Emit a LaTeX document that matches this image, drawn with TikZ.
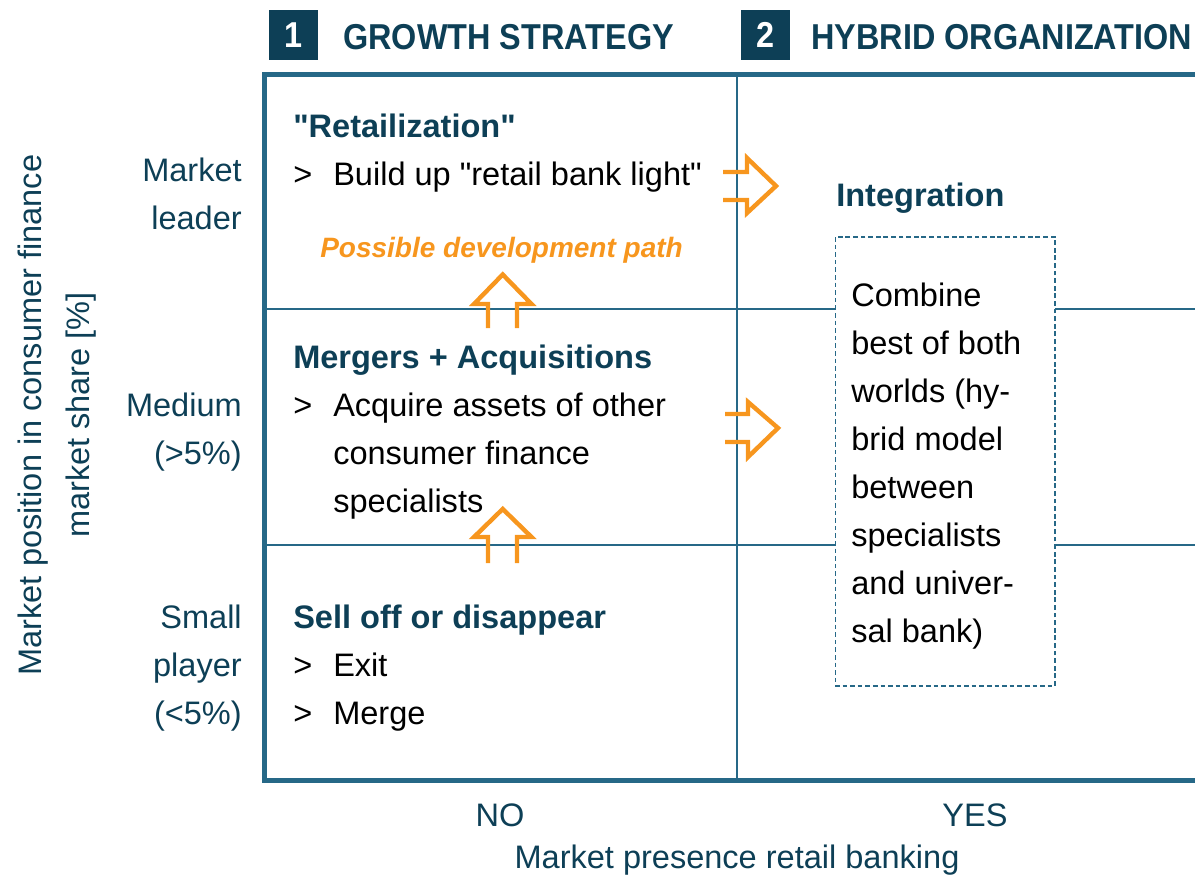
\documentclass[tikz,border=0pt]{standalone}
\usepackage{fontspec}
\setmainfont[Ligatures=TeXOff]{Liberation Sans}
\newfontfamily\headfamily[FakeStretch=0.9]{Liberation Sans}
\definecolor{ink}{RGB}{13,63,86}
\definecolor{rule}{RGB}{38,104,135}
\definecolor{accent}{RGB}{247,150,30}
\newcommand\bodyfont{\fontsize{24.4}{36}\selectfont}
\newcommand\titlefont{\headfamily\fontsize{27}{36}\selectfont\bfseries}
\begin{document}
\begin{tikzpicture}[x=0.75pt,y=-0.75pt,
  txt/.style={anchor=base west, inner sep=0pt, font=\bodyfont},
  rtxt/.style={anchor=base east, inner sep=0pt, font=\bodyfont, text=ink},
  ctxt/.style={anchor=base, inner sep=0pt, font=\bodyfont, text=ink},
  head/.style={anchor=base west, inner sep=0pt, font=\bodyfont\bfseries, text=ink},
  title/.style={anchor=base west, inner sep=0pt, font=\titlefont, text=ink},
  numbox/.style={fill=ink, text=white, minimum width=36.75pt, minimum height=37.5pt,
    inner sep=0pt, font=\titlefont},
  frameline/.style={draw=rule, line width=3.75pt},
  gridline/.style={draw=rule, line width=1.4pt},
  hybridbox/.style={draw=rule, line width=0.9pt, dash pattern=on 3.5pt off 2.2pt, fill=white},
  hollowarrow/.style={draw=accent, line width=3.3pt, miter limit=10},
]
\useasboundingbox (0,0) rectangle (1195,876);

% column headers
\node[numbox] (n1) at (293.5,35) {1};
\node[title] (h1) at (343,49) {GROWTH STRATEGY};
\node[numbox] (n2) at (765,35) {2};
\node[title] (h2) at (811,49) {HYBRID ORGANIZATION};

% grid of the matrix
\draw[gridline] (737,74) -- (737,780);
\draw[gridline] (264,309) -- (1200,309);
\draw[gridline] (264,545) -- (1200,545);

% outer frame (open to the right)
\draw[frameline] (1200,74) -- (264,74) -- (264,780) -- (1200,780);

% hybrid model box
\draw[hybridbox] (835.5,237) rectangle (1055,686);

% development arrows
\draw[hollowarrow] (488,328) -- (488,304) -- (474,304) -- (502.7,274.5) -- (531.5,304) -- (517,304) -- (517,328);
\draw[hollowarrow] (488,563) -- (488,537) -- (474,537) -- (502.7,509) -- (531.5,537) -- (517,537) -- (517,563);
\draw[hollowarrow] (723,172) -- (747,172) -- (747,158) -- (776,186) -- (747,213) -- (747,200) -- (723,200);
\draw[hollowarrow] (725,414) -- (748,414) -- (748,402) -- (778,428) -- (748,457) -- (748,442) -- (725,442);

% vertical axis
\node[rotate=90, align=center, inner sep=0pt, font=\bodyfont, text=ink] (yaxis) at (57,415)
  {Market position in consumer finance\\market share [\%]};
\node[rtxt] (r1a) at (242,181) {Market};
\node[rtxt] (r1b) at (242,229) {leader};
\node[rtxt] (r2a) at (242,416) {Medium};
\node[rtxt] (r2b) at (242,464) {(>5\%)};
\node[rtxt] (r3a) at (242,628) {Small};
\node[rtxt] (r3b) at (242,676) {player};
\node[rtxt] (r3c) at (242,724) {(<5\%)};

% horizontal axis
\node[ctxt] (no) at (500,826) {NO};
\node[ctxt] (yes) at (975,826) {YES};
\node[ctxt] (xaxis) at (737,868) {Market presence retail banking};

% top cell
\node[head] (ret) at (293,137) {"Retailization"};
\node[txt] (b1) at (293,185) {>};
\node[txt] (t1) at (333,185) {Build up "retail bank light"};
\node[anchor=base west, inner sep=0pt, font=\fontsize{21}{26}\selectfont\bfseries\itshape, text=accent]
  (path) at (320,257) {Possible development path};

% middle cell
\node[head] (ma) at (293,368) {Mergers + Acquisitions};
\node[txt] (b2) at (293,416) {>};
\node[txt] (t2a) at (333,416) {Acquire assets of other};
\node[txt] (t2b) at (333,464) {consumer finance};
\node[txt] (t2c) at (333,512) {specialists};

% bottom cell
\node[head] (sell) at (293,628) {Sell off or disappear};
\node[txt] (b3) at (293,676) {>};
\node[txt] (t3a) at (333,676) {Exit};
\node[txt] (b4) at (293,724) {>};
\node[txt] (t3b) at (333,724) {Merge};

% hybrid column
\node[head] (integ) at (836,206) {Integration};
\node[txt] (c1) at (851,306) {Combine};
\node[txt] (c2) at (851,354) {best of both};
\node[txt] (c3) at (851,402) {worlds (hy-};
\node[txt] (c4) at (851,450) {brid model};
\node[txt] (c5) at (851,498) {between};
\node[txt] (c6) at (851,546) {specialists};
\node[txt] (c7) at (851,594) {and univer-};
\node[txt] (c8) at (851,642) {sal bank)};
\end{tikzpicture}
\end{document}
